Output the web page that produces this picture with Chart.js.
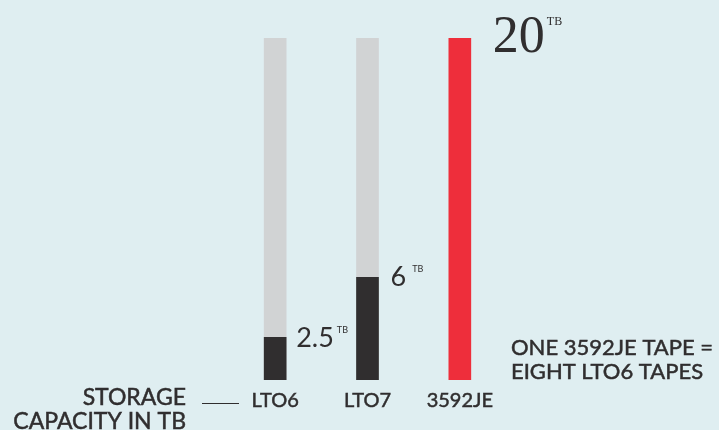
<!DOCTYPE html>
<html>
<head>
<meta charset="utf-8">
<script src="https://cdn.jsdelivr.net/npm/chart.js@4.4.0/dist/chart.umd.min.js"></script>
<style>
  html, body { margin: 0; padding: 0; background: #dfeef1; }
  #wrap { position: relative; width: 719px; height: 430px; }
</style>
</head>
<body>
<div id="wrap"><canvas id="c" width="719" height="430"></canvas></div>
<script>
const categories = ["LTO6", "LTO7", "3592JE"];
const capacityTB = [2.5, 6, 20];
const trackTB = [20, 20, null];
const valueLabels = ["2.5", "6", "20"];
const axisTitle = ["STORAGE", "CAPACITY IN TB"];
const noteLines = ["ONE 3592JE TAPE =", "EIGHT LTO6 TAPES"];

const DARK = "#302e2f";
const SANS = "Lato, 'Open Sans', sans-serif";
const SERIF = "'Liberation Serif', 'DejaVu Serif', serif";

// fill + thin stroke so Lato reads a bit heavier, like the original
function boldText(ctx, txt, x, y) {
  ctx.fillText(txt, x, y);
  ctx.strokeText(txt, x, y);
}

// category names, value labels next to the bar tops, side texts
const annotations = {
  id: "annotations",
  afterDatasetsDraw(chart) {
    const ctx = chart.ctx;
    const xs = chart.scales.x;
    const meta = chart.getDatasetMeta(0);
    ctx.save();
    ctx.fillStyle = DARK;
    ctx.strokeStyle = DARK;
    ctx.lineWidth = 0.5;
    ctx.textBaseline = "alphabetic";

    ctx.font = `20px ${SANS}`;
    ctx.textAlign = "center";
    categories.forEach((name, i) => {
      boldText(ctx, name, xs.getPixelForValue(i), 407);
    });

    meta.data.forEach((bar, i) => {
      ctx.textAlign = "left";
      if (i < 2) {
        ctx.font = `27px ${SANS}`;
        const x = bar.x + (i === 0 ? 21 : 23);
        const y = bar.y + (i === 0 ? 10 : 9);
        ctx.fillText(valueLabels[i], x, y);
        const w = ctx.measureText(valueLabels[i]).width;
        ctx.font = `9px ${SANS}`;
        ctx.fillText("TB", x + w + (i === 0 ? 3 : 6), y - 14);
      } else {
        ctx.font = `52px ${SERIF}`;
        const x = bar.x + 33;
        const y = bar.y + 14;
        ctx.fillText(valueLabels[i], x, y);
        const w = ctx.measureText(valueLabels[i]).width;
        ctx.font = `12px ${SERIF}`;
        ctx.fillText("TB", x + w + 2, y - 27);
      }
    });

    // axis title on the left
    ctx.font = `23px ${SANS}`;
    ctx.textAlign = "right";
    boldText(ctx, axisTitle[0], 186, 405);
    boldText(ctx, axisTitle[1], 186, 429);
    ctx.lineWidth = 1.2;
    ctx.beginPath();
    ctx.moveTo(202, 403.5);
    ctx.lineTo(239, 403.5);
    ctx.stroke();

    // note on the right
    ctx.lineWidth = 0.5;
    ctx.font = `22px ${SANS}`;
    ctx.textAlign = "left";
    boldText(ctx, noteLines[0], 511, 355);
    boldText(ctx, noteLines[1], 511, 379);
    ctx.restore();
  }
};

new Chart(document.getElementById("c"), {
  type: "bar",
  data: {
    labels: categories,
    datasets: [
      {
        data: capacityTB,
        backgroundColor: [DARK, DARK, "#ee2e3b"],
        barThickness: 22,
        grouped: false,
        order: 0,
      },
      {
        data: trackTB,
        backgroundColor: "#d1d3d4",
        barThickness: 22,
        grouped: false,
        order: 1,
      },
    ],
  },
  options: {
    responsive: false,
    animation: false,
    layout: { padding: { left: 229, right: 213, top: 38, bottom: 50 } },
    plugins: { legend: { display: false }, tooltip: { enabled: false } },
    scales: {
      x: { display: false },
      y: { display: false, min: 0, max: 20 },
    },
  },
  plugins: [annotations],
});
</script>
</body>
</html>
